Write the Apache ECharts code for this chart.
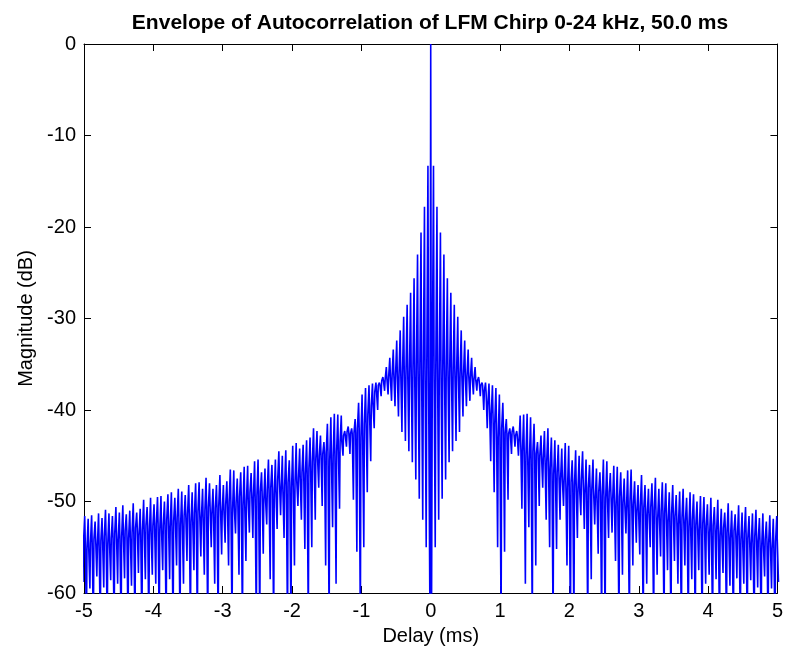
<!DOCTYPE html>
<html lang="en">
<head>
<meta charset="utf-8">
<script src="https://cdn.jsdelivr.net/npm/echarts@6/dist/echarts.min.js"></script>
<style>
  html, body { margin: 0; padding: 0; background: #fff; }
  #chart { width: 786px; height: 654px; }
</style>
</head>
<body>
<div id="chart"></div>

<script type="text/javascript">
    // the autocorrelation envelope is symmetric, so the left half reuses it
    var period = 0.05;

    var peakDb = [
        -13.3, -17.8, -20.6, -23.0, -25.6, -27.2, -28.5, -29.8, -31.3, -32.4,
        -33.4, -34.3, -35.3, -36.4, -37.0, -37.0, -37.1, -37.3, -37.6, -38.3,
        -39.2, -41.0, -42.0, -41.8, -42.3, -40.6, -40.5, -40.4, -40.8, -41.5,
        -43.5, -42.8, -42.3, -42.0, -43.0, -43.3, -43.8, -44.2, -43.6, -43.9,
        -45.5, -44.4, -45.0, -44.5, -45.4, -46.0, -45.4, -46.4, -46.8, -45.4,
        -45.6, -46.9, -46.1, -46.2, -46.8, -47.5, -46.6, -46.5, -47.8, -48.2,
        -47.1, -48.2, -48.6, -48.0, -47.4, -48.6, -47.9, -48.0, -49.0, -48.2,
        -49.3, -48.9, -48.6, -49.6, -49.0, -49.2, -50.0, -49.4, -49.5, -50.3,
        -49.6, -50.6, -49.8, -50.8, -51.2, -50.2, -51.0, -51.4, -50.4, -51.2,
        -50.6, -51.6, -51.3, -50.9, -51.8, -51.3, -52.2, -51.5, -51.9, -51.6
    ];

    var midDb = [
        -35.5, -35.6, -35.6, -35.7, -35.7, -35.8, -35.8, -35.9, -36.0, -36.1,
        -36.2, -36.4, -36.6, -36.8, -37.3, -38.0, -39.5, -40.5, -41.5, -43.0,
        -42.0, -42.5, -42.6, -42.4, -42.8, -43.5, -44.5, -45.0, -45.5, -44.6,
        -44.8, -45.0, -45.3, -45.6, -46.4, -47.0, -46.8, -47.5, -47.8, -48.5,
        -47.9, -48.3, -48.8, -47.6, -49.2, -48.5, -48.7, -49.8, -48.9, -49.4,
        -49.6, -49.0, -49.9, -50.4, -49.5, -50.1, -50.8, -50.0, -50.3, -51.1,
        -50.5, -50.7, -51.4, -50.6, -51.0, -51.8, -51.1, -51.3, -52.2, -51.4,
        -51.6, -52.5, -51.8, -52.1, -52.8, -52.0, -52.6, -53.1, -52.4, -52.7,
        -53.4, -52.6, -53.2, -53.7, -52.9, -53.4, -54.0, -53.2, -53.8, -54.2,
        -53.5, -54.0, -54.6, -53.8, -54.3, -54.9, -54.1, -54.6, -55.1, -54.4
    ];

    var troughDb = [
        -55.0, -52.0, -49.7, -47.6, -45.7, -44.5, -43.4, -42.4, -40.7, -39.6,
        -39.0, -38.3, -37.9, -38.5, -40.0, -42.0, -45.6, -49.0, -55.0, -64.0,
        -55.5, -49.8, -44.8, -44.0, -45.0, -50.8, -59.0, -52.8, -64.0, -57.0,
        -50.5, -48.5, -52.0, -55.0, -64.0, -55.2, -52.0, -50.5, -57.0, -64.0,
        -64.0, -54.0, -51.5, -53.0, -64.0, -58.5, -52.5, -55.7, -64.0, -64.0,
        -54.0, -53.4, -56.5, -64.0, -58.0, -53.5, -64.0, -57.0, -54.5, -55.8,
        -64.0, -59.0, -55.0, -64.0, -58.0, -56.0, -64.0, -57.5, -64.0, -56.5,
        -59.0, -64.0, -57.0, -64.0, -58.5, -64.0, -57.5, -64.0, -59.0, -58.0,
        -64.0, -58.5, -64.0, -57.8, -64.0, -59.2, -64.0, -58.4, -64.0, -59.0,
        -64.0, -58.6, -64.0, -59.4, -64.0, -58.2, -64.0, -59.5, -64.0, -58.8
    ];

    // main lobe at zero delay
    var centreX = [-0.012, 0, 0.012];
    var centreDb = [-62, 0, -62];

    var xTicks = [-5, 5, 1];
    var yTicks = [-60, 0, 10];

    // build the sample path: per oscillation mid, mid, peak, mid, mid, trough
    var steps = [-0.0167, -0.0083, 0, 0.0083, 0.0167, 0.025];
    function halfPath(k) {
        var t = (k + 1) * period - 0.01;
        var vals = [midDb[k], midDb[k], peakDb[k], midDb[k], midDb[k], troughDb[k]];
        return steps.map(function (s, i) { return [t + s, vals[i]]; });
    }

    var data = [];
    for (var k = peakDb.length - 1; k >= 0; k--) {
        var seg = halfPath(k);
        for (var j = seg.length - 1; j >= 0; j--) {
            data.push([-seg[j][0], seg[j][1]]);
        }
    }
    for (var c = 0; c < centreX.length; c++) {
        data.push([centreX[c], centreDb[c]]);
    }
    for (var k2 = 0; k2 < peakDb.length; k2++) {
        data = data.concat(halfPath(k2));
    }

    var font = '"Liberation Sans", Arial, Helvetica, sans-serif';

    function boxAxis(pos, ticks, extra) {
        var ax = {
            type: 'value',
            position: pos,
            min: ticks[0],
            max: ticks[1],
            interval: ticks[2],
            axisLine: { show: true, onZero: false, lineStyle: { color: '#000', width: 1 } },
            axisTick: { show: true, inside: true, length: 7, lineStyle: { color: '#000' } },
            axisLabel: { show: false },
            splitLine: { show: false }
        };
        for (var key in extra) ax[key] = extra[key];
        return ax;
    }

    var myChart = echarts.init(document.getElementById('chart'));

    var option = {
        backgroundColor: '#fff',
        animation: false,
        title: {
            text: 'Envelope of Autocorrelation of LFM Chirp 0-24 kHz, 50.0 ms',
            left: 425,
            textAlign: 'center',
            top: 8,
            textStyle: {
                fontFamily: font,
                fontSize: 21,
                fontWeight: 'bold',
                color: '#000'
            }
        },
        grid: {
            left: 84,
            right: 8,
            top: 44,
            bottom: 61
        },
        xAxis: [
            boxAxis('bottom', xTicks, {
                name: 'Delay (ms)',
                nameLocation: 'middle',
                nameGap: 33,
                nameTextStyle: { fontFamily: font, fontSize: 20, color: '#000' },
                axisLabel: { fontFamily: font, fontSize: 20, color: '#000', margin: 8 }
            }),
            boxAxis('top', xTicks, {})
        ],
        yAxis: [
            boxAxis('left', yTicks, {
                name: 'Magnitude (dB)',
                nameLocation: 'middle',
                nameGap: 48,
                nameTextStyle: { fontFamily: font, fontSize: 20, color: '#000' },
                axisLabel: { fontFamily: font, fontSize: 20, color: '#000', margin: 8 }
            }),
            boxAxis('right', yTicks, {})
        ],
        series: [{
            name: 'envelope',
            type: 'line',
            xAxisIndex: 0,
            yAxisIndex: 0,
            data: data,
            showSymbol: false,
            clip: true,
            lineStyle: { color: '#0000ff', width: 1.6 }
        }]
    };

    myChart.setOption(option);
</script>
</body>
</html>
